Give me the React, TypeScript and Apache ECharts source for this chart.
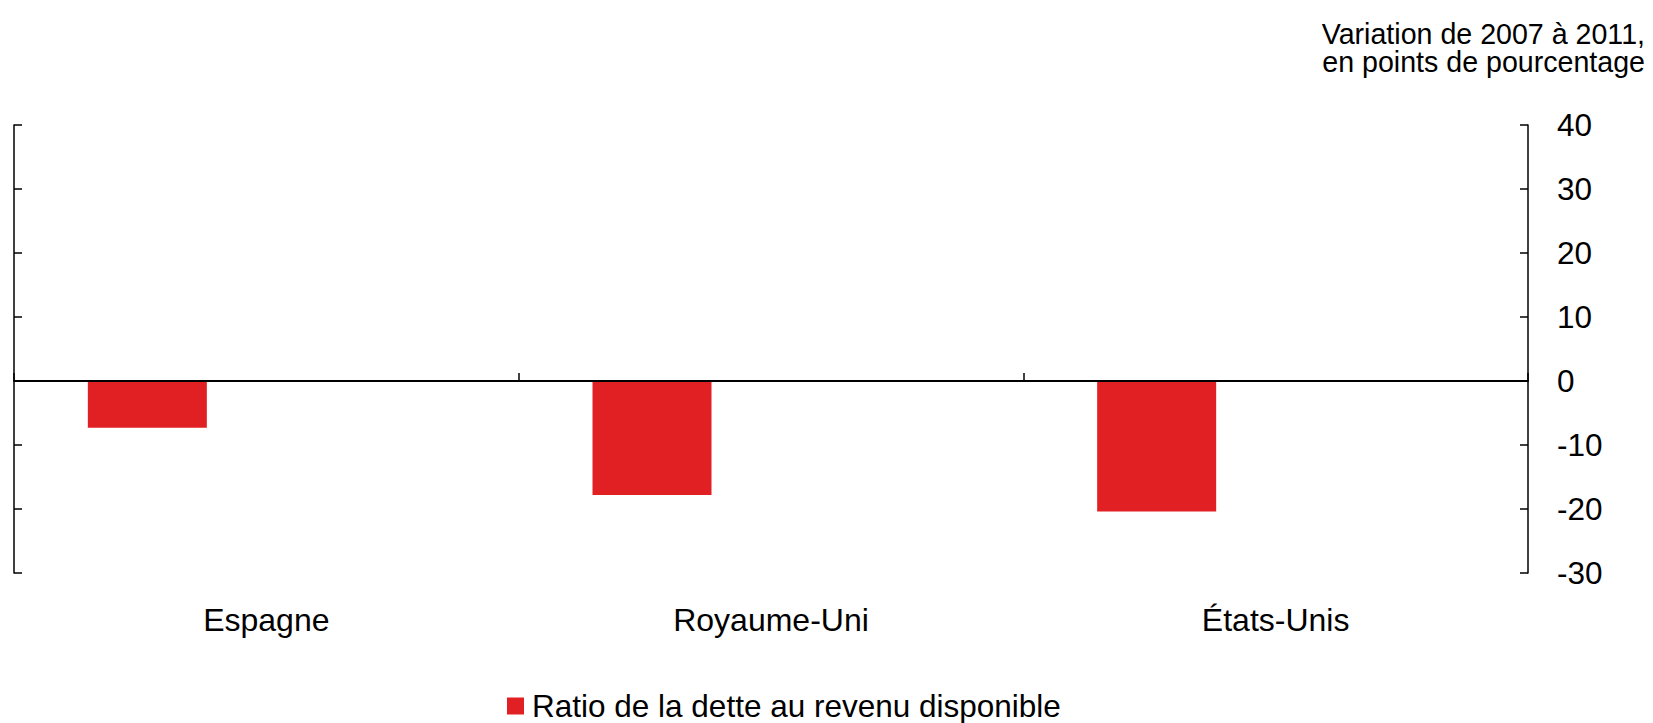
import React, { useEffect, useRef } from 'react';
import * as echarts from 'echarts';

// Household debt-to-disposable-income ratio, change 2007–2011 (percentage points)
const categories = ['Espagne', 'Royaume-Uni', 'États-Unis'];
const debtRatioChange = [-7.3, -17.8, -20.4];
const seriesName = 'Ratio de la dette au revenu disponible';
const unitNote = ['Variation de 2007 à 2011,', 'en points de pourcentage'];
const yMin = -30;
const yMax = 40;
const yStep = 10;

const FONT = '"Liberation Sans", Arial, Helvetica, sans-serif';
const BAR_COLOR = '#E12024';
const NOTE_SIZE = 28.6;
const NOTE_LINE = 28.6;

export default function App() {
  const ref = useRef<HTMLDivElement>(null);

  useEffect(() => {
    if (!ref.current) return;
    const chart = echarts.init(ref.current, null, { renderer: 'svg' });

    const valueAxisBase = {
      type: 'value' as const,
      min: yMin,
      max: yMax,
      interval: yStep,
      splitLine: { show: false },
      axisLine: { show: true, lineStyle: { color: '#000', width: 1.5 } },
      axisTick: { show: true, inside: true, length: 8, lineStyle: { color: '#000', width: 1.5 } },
    };

    chart.setOption({
      animation: false,
      backgroundColor: '#fff',
      textStyle: { fontFamily: FONT, color: '#000' },
      grid: { left: 14, right: 125, top: 125, bottom: 150, containLabel: false },
      legend: {
        data: [{ name: seriesName, icon: 'rect' }],
        left: 507,
        top: 690,
        padding: 0,
        itemWidth: 17,
        itemHeight: 17,
        textStyle: { fontSize: 31.5, color: '#000', fontFamily: FONT, padding: [0, 0, 0, 3] },
      },
      xAxis: [
        {
          type: 'category',
          data: categories,
          position: 'bottom',
          z: 5,
          axisLine: { show: true, onZero: true, lineStyle: { color: '#000', width: 2 } },
          axisTick: { show: true, inside: true, length: 8, lineStyle: { color: '#000', width: 1.5 } },
          axisLabel: { show: false },
          splitLine: { show: false },
        },
        {
          type: 'category',
          data: categories,
          position: 'bottom',
          axisLine: { show: false, onZero: false },
          axisTick: { show: false },
          axisLabel: { show: true, margin: 31, fontSize: 32, color: '#000', fontFamily: FONT },
          splitLine: { show: false },
        },
      ],
      yAxis: [
        {
          ...valueAxisBase,
          position: 'left',
          axisLabel: { show: false },
        },
        {
          ...valueAxisBase,
          position: 'right',
          axisLabel: {
            show: true,
            margin: 29,
            fontSize: 31.5,
            color: '#000',
            fontFamily: FONT,
            align: 'left',
          },
        },
      ],
      series: [
        {
          name: seriesName,
          type: 'bar',
          xAxisIndex: 0,
          yAxisIndex: 0,
          data: debtRatioChange,
          barWidth: 119,
          barGap: '100%',
          itemStyle: { color: BAR_COLOR },
        },
        {
          name: 'placeholder',
          type: 'bar',
          xAxisIndex: 0,
          yAxisIndex: 0,
          data: categories.map(() => null),
          barWidth: 119,
          barGap: '100%',
          itemStyle: { color: 'transparent' },
        },
      ],
      // Unit note above the right-hand value axis, one text per line
      graphic: unitNote.map((line, i) => ({
        type: 'text',
        right: 8,
        top: 19 + i * NOTE_LINE,
        style: {
          text: line,
          align: 'right',
          fontSize: NOTE_SIZE,
          lineHeight: NOTE_LINE,
          fontFamily: FONT,
          fill: '#000',
        },
      })),
    });

    return () => chart.dispose();
  }, []);

  return (
    <div
      ref={ref}
      style={{ position: 'absolute', left: 0, top: 0, width: 1653, height: 723, background: '#fff' }}
    />
  );
}
